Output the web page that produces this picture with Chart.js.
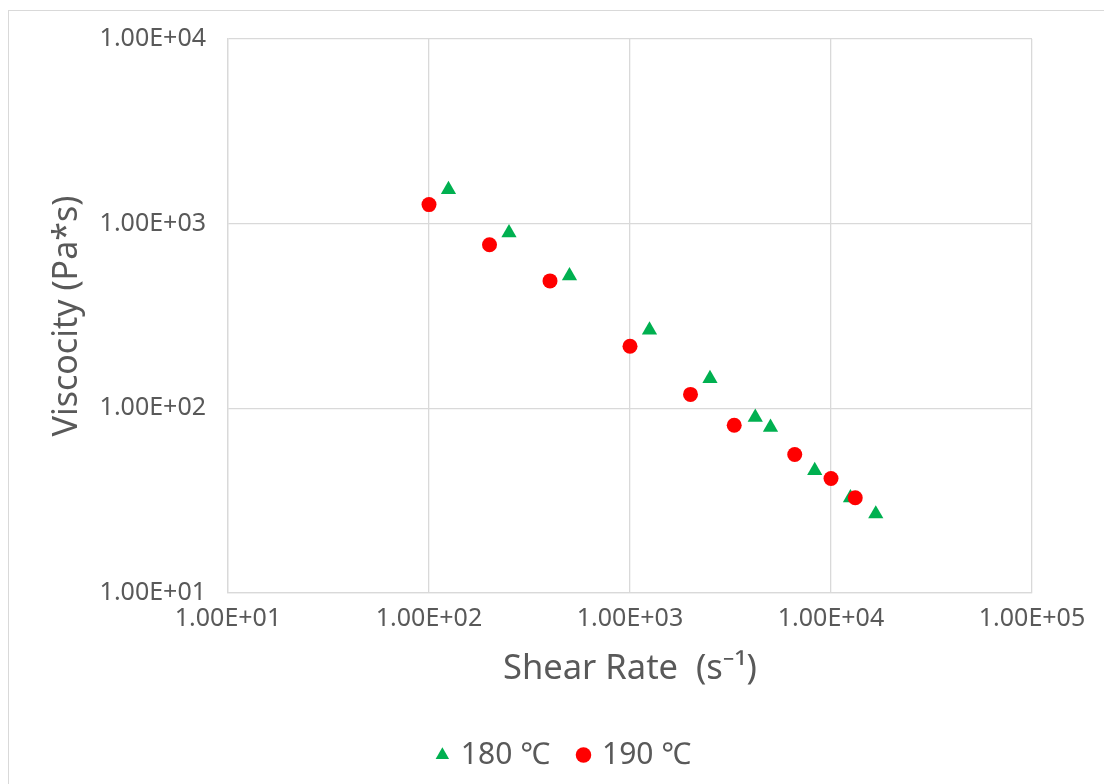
<!DOCTYPE html>
<html>
<head>
<meta charset="utf-8">
<script src="https://cdn.jsdelivr.net/npm/chart.js@4.4.1/dist/chart.umd.min.js"></script>
<style>
  html, body { margin: 0; padding: 0; background: #fff; }
  #wrap { position: relative; width: 1104px; height: 784px; overflow: hidden; }
  #frame { position: absolute; left: 8px; top: 10px; right: -10px; bottom: -10px;
           border-left: 1.5px solid #d9d9d9; border-top: 1.5px solid #d9d9d9; }
  canvas { position: absolute; left: 0; top: 0; }
</style>
</head>
<body>
<div id="wrap">
  <div id="frame"></div>
  <canvas id="chart" width="1104" height="784"></canvas>
</div>
<script>
// shear rate (1/s) and viscosity (Pa*s)
const shear180 = [125, 250, 500, 1250, 2500, 4200, 5000, 8300, 12500, 16700];
const visc180 = [1530, 893, 522, 265, 145, 89.3, 78.9, 46, 32.8, 26.8];
const shear190 = [100, 200, 400, 1000, 2000, 3300, 6600, 10000, 13200];
const visc190 = [1268, 769, 490, 217, 119, 81, 56.2, 41.7, 32.8];

const xTickValues = [10, 100, 1000, 10000, 100000];
const xTickLabels = ['1.00E+01', '1.00E+02', '1.00E+03', '1.00E+04', '1.00E+05'];
const yTickValues = [10, 100, 1000, 10000];
const yTickLabels = ['1.00E+01', '1.00E+02', '1.00E+03', '1.00E+04'];

const seriesNames = ['180 \u2103', '190 \u2103'];

const FONT = "'Noto Sans', 'DejaVu Sans', sans-serif";
const TXT = '#595959';
const GRID = '#d9d9d9';

const toPoints = (xs, ys) => xs.map((x, i) => ({ x: x, y: ys[i] }));

new Chart(document.getElementById('chart'), {
    type: 'scatter',
    data: {
        datasets: [
            {
                label: seriesNames[0],
                data: toPoints(shear180, visc180),
                pointStyle: 'triangle',
                pointRadius: 8.8,
                pointHoverRadius: 8.8,
                backgroundColor: '#00b050',
                borderColor: '#00b050',
                borderWidth: 0,
                order: 1
            },
            {
                label: seriesNames[1],
                data: toPoints(shear190, visc190),
                pointStyle: 'circle',
                pointRadius: 7.5,
                pointHoverRadius: 7.5,
                backgroundColor: '#ff0000',
                borderColor: '#ff0000',
                borderWidth: 0,
                order: 0
            }
        ]
    },
    options: {
        responsive: false,
        animation: false,
        layout: { padding: { left: 26, right: 0, top: 39, bottom: 4 } },
        plugins: {
            tooltip: { enabled: false },
            legend: {
                position: 'bottom',
                labels: {
                    usePointStyle: true,
                    boxWidth: 7,
                    boxHeight: 11,
                    padding: 30,
                    color: TXT,
                    font: { family: FONT, size: 30 },
                    sort: (a, b) => a.datasetIndex - b.datasetIndex
                }
            }
        },
        scales: {
            x: {
                type: 'logarithmic',
                min: 10,
                max: 100000,
                afterBuildTicks: s => { s.ticks = xTickValues.map(v => ({ value: v })); },
                afterFit: s => { s.height = 117; },
                ticks: {
                    color: TXT,
                    padding: 11,
                    maxRotation: 0,
                    autoSkip: false,
                    font: { family: FONT, size: 25 },
                    callback: (v) => xTickLabels[xTickValues.indexOf(v)]
                },
                grid: { color: GRID, lineWidth: 1.3, drawTicks: false },
                border: { color: GRID, width: 1.3 },
                title: {
                    display: true,
                    text: 'Shear Rate  (s\u207b\u00b9)',
                    color: TXT,
                    font: { family: FONT, size: 34.5 },
                    padding: { top: 0, bottom: 20 }
                }
            },
            y: {
                type: 'logarithmic',
                min: 10,
                max: 10000,
                afterBuildTicks: s => { s.ticks = yTickValues.map(v => ({ value: v })); },
                afterFit: s => { s.width = 202; },
                ticks: {
                    color: TXT,
                    padding: 22,
                    autoSkip: false,
                    font: { family: FONT, size: 25 },
                    callback: (v) => yTickLabels[yTickValues.indexOf(v)]
                },
                grid: { color: GRID, lineWidth: 1.3, drawTicks: false },
                border: { color: GRID, width: 1.3 },
                title: {
                    display: true,
                    text: 'Viscocity (Pa*s)',
                    color: TXT,
                    font: { family: FONT, size: 34 },
                    padding: { top: 21, bottom: 0 }
                }
            },
            // empty right-hand axis only reserves the margin right of the plot
            yRight: {
                type: 'linear',
                position: 'right',
                display: true,
                min: 0,
                max: 1,
                afterFit: s => { s.width = 72; },
                ticks: { display: false },
                grid: { display: false, drawTicks: false },
                border: { display: false }
            }
        }
    }
});
</script>
</body>
</html>
